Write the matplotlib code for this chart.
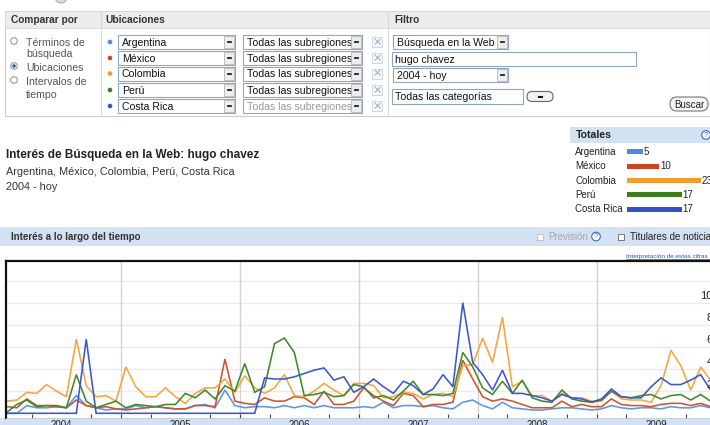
import matplotlib
matplotlib.use("Agg")
import matplotlib.pyplot as plt
import matplotlib.transforms as mtransforms
from matplotlib.patches import Rectangle, Circle, FancyBboxPatch
import numpy as np

plt.rcParams['font.family'] = ['Liberation Sans', 'DejaVu Sans']

# datos (interes mensual, ene 2004 - dic 2009)
paises = ['Argentina', 'México', 'Colombia', 'Perú', 'Costa Rica']
totales = [5, 10, 23, 17, 17]
anios = ['2004', '2005', '2006', '2007', '2008', '2009']
valores_eje = [20, 40, 60, 80, 100]

argentina = [0, 0, 7, 5, 5, 6, 5, 16, 7, 5, 3, 4,
             4, 7, 5, 6, 5, 4, 4, 7, 8, 5, 21, 7,
             5, 6, 6, 5, 7, 5, 7, 5, 7, 5, 5, 5,
             6, 5, 10, 5, 7, 7, 6, 7, 5, 4, 10, 12,
             7, 4, 10, 5, 4, 3, 3, 4, 5, 5, 4, 3,
             4, 7, 5, 4, 5, 5, 4, 6, 5, 5, 7, 5]
mexico = [6, 5, 13, 7, 7, 6, 5, 12, 7, 5, 6, 4,
          3, 4, 5, 6, 5, 4, 4, 7, 7, 6, 49, 11,
          9, 8, 14, 11, 11, 15, 14, 8, 20, 8, 8, 11,
          23, 16, 11, 7, 18, 16, 6, 8, 8, 10, 48, 31,
          15, 11, 13, 11, 8, 5, 5, 5, 11, 6, 8, 6,
          6, 13, 8, 7, 7, 6, 8, 9, 9, 7, 9, 6]
colombia = [11, 12, 19, 18, 26, 20, 15, 67, 25, 15, 16, 11,
            42, 24, 15, 15, 23, 15, 9, 18, 23, 23, 31, 19,
            34, 23, 18, 23, 35, 16, 15, 20, 27, 21, 16, 27,
            27, 25, 14, 15, 19, 18, 13, 17, 18, 15, 43, 44,
            68, 46, 87, 24, 29, 16, 16, 11, 18, 14, 14, 11,
            11, 20, 13, 12, 12, 10, 25, 57, 43, 21, 42, 30]
peru = [1, 8, 12, 6, 7, 7, 5, 35, 11, 5, 8, 11,
        5, 8, 7, 6, 8, 8, 18, 14, 21, 13, 25, 20,
        45, 19, 24, 63, 68, 55, 16, 17, 19, 15, 16, 26,
        24, 14, 16, 12, 20, 29, 17, 17, 16, 18, 55, 42,
        23, 17, 29, 18, 30, 14, 11, 10, 21, 13, 11, 10,
        12, 20, 15, 14, 16, 17, 13, 16, 17, 12, 17, 11]
costa_rica = [0, 0, 0, 0, 0, 0, 0, 0, 67, 0, 0, 0,
              0, 0, 0, 0, 0, 0, 0, 0, 0, 0, 0, 0,
              0, 0, 32, 31, 31, 33, 36, 39, 41, 30, 33, 19,
              24, 31, 24, 18, 29, 25, 17, 22, 35, 24, 100, 46,
              35, 21, 39, 18, 18, 16, 14, 11, 17, 14, 13, 10,
              13, 22, 15, 14, 14, 24, 32, 26, 26, 30, 35, 21]
series = [argentina, mexico, colombia, peru, costa_rica]

colores = ['#5c95ea', '#d0532e', '#f7a53c', '#40892a', '#3d56d0']
colores_barra = ['#4a8be6', '#cc4422', '#f59a2c', '#3b7d1e', '#3352c8']

fig = plt.figure(figsize=(7.1, 4.25), dpi=100)

# capa de interfaz en pixeles
ui = fig.add_axes([0, 0, 1, 1])
ui.set_xlim(0, 710)
ui.set_ylim(425, 0)
ui.axis('off')


def desplegable(x0, x1, yc, texto, gris=False, h=14):
    ui.add_patch(Rectangle((x0, yc - h / 2), x1 - x0, h, fc='white', ec='#8ea6c6', lw=0.8, zorder=2))
    ui.text(x0 + 4, yc + 0.5, texto, fontsize=7.6, va='center', color='#999999' if gris else '#111111', zorder=3)
    ui.add_patch(Rectangle((x1 - 11, yc - h / 2 + 1), 10, h - 2, fc='#ededed', ec='#b5b5b5', lw=0.6, zorder=4))
    ui.plot([x1 - 7.5, x1 - 4.5], [yc, yc], color='#222222', lw=1.3, zorder=5)


def campo(x0, x1, yc, texto, h=14):
    ui.add_patch(Rectangle((x0, yc - h / 2), x1 - x0, h, fc='white', ec='#8ea6c6', lw=0.8, zorder=2))
    ui.text(x0 + 3, yc + 0.5, texto, fontsize=7.6, va='center', color='#111111', zorder=3)


# icono cortado arriba
ui.add_patch(Circle((61, -3), 6, fc='#dddddd', ec='#aaaaaa', lw=0.8))

# panel de consulta
ui.add_patch(Rectangle((5, 11), 705, 105, fc='white', ec='#cccccc', lw=0.8))
ui.add_patch(Rectangle((5, 11), 705, 17, fc='#ececec', ec='#d6d6d6', lw=0.6))
ui.plot([101, 101], [11, 116], color='#d8d8d8', lw=0.8)
ui.plot([388, 388], [11, 116], color='#d8d8d8', lw=0.8)
ui.text(11, 19.5, 'Comparar por', fontsize=7.3, fontweight='bold', va='center', color='#333333')
ui.text(105, 19.5, 'Ubicaciones', fontsize=7.3, fontweight='bold', va='center', color='#333333')
ui.text(394, 19.5, 'Filtro', fontsize=7.3, fontweight='bold', va='center', color='#333333')

# radios
for yr, sel in [(41, False), (66, True), (80, False)]:
    ui.add_patch(Circle((14, yr), 3.3, fc='white', ec='#999999', lw=0.8))
    if sel:
        ui.add_patch(Circle((14, yr), 1.8, fc='#2a5db0', ec='none'))
for t, yt in [('Términos de', 42.5), ('búsqueda', 53.5), ('Ubicaciones', 67.5),
              ('Intervalos de', 81.5), ('tiempo', 95)]:
    ui.text(26, yt, t, fontsize=7.6, va='center', color='#555555')

# filas de ubicaciones
filas_y = [42, 58, 73.5, 90, 106]
for i, p in enumerate(paises):
    yc = filas_y[i]
    ui.add_patch(Circle((110, yc), 2.3, fc=colores_barra[i], ec='none'))
    desplegable(118, 235, yc, p)
    desplegable(243, 362, yc, 'Todas las subregiones', gris=(i == 4))
    ui.add_patch(Rectangle((372, yc - 5), 10, 10, fc='#f4f6fa', ec='#c8d2e0', lw=0.6))
    ui.text(377, yc + 0.3, '×', fontsize=8, ha='center', va='center', color='#8da2c4', family='DejaVu Sans')

# filtro
desplegable(393, 508, 42, 'Búsqueda en la Web')
campo(392, 636, 59, 'hugo chavez')
desplegable(393, 508, 75, '2004 - hoy')
campo(392, 523, 96.5, 'Todas las categorías', h=15)
ui.add_patch(FancyBboxPatch((527, 91.5), 26, 10, boxstyle='round,pad=0,rounding_size=5',
                            fc='#f2f2f2', ec='#666666', lw=0.8))
ui.plot([538.5, 541.5], [96.5, 96.5], color='#111111', lw=1.5)
ui.add_patch(FancyBboxPatch((670, 97), 38, 14, boxstyle='round,pad=0,rounding_size=7',
                            fc='#f4f4f4', ec='#777777', lw=0.8))
ui.text(689, 104.5, 'Buscar', fontsize=7, ha='center', va='center', color='#222222')

# titulo
ui.text(6, 155, 'Interés de Búsqueda en la Web: hugo chavez', fontsize=8.5, fontweight='bold',
        va='center', color='#222222')
ui.text(6, 171.5, ', '.join(paises), fontsize=7.8, va='center', color='#333333')
ui.text(6, 186.5, '2004 - hoy', fontsize=7.8, va='center', color='#333333')

# totales
ui.add_patch(Rectangle((570, 127), 140, 16, fc='#d3e2f3', ec='none'))
ui.text(576, 135.5, 'Totales', fontsize=7.6, fontweight='bold', va='center', color='#222222')
ui.add_patch(Circle((706, 135), 4.3, fc='white', ec='#3b67c8', lw=0.8))
ui.text(706, 135.3, '?', fontsize=5.5, ha='center', va='center', color='#3b67c8')
fila0, paso = 151.7, 14.4
for i, p in enumerate(paises):
    ui.text(575, fila0 + paso * i, p, fontsize=7, va='center', color='#222222')

tx = fig.add_axes([627 / 710, (425 - (fila0 - paso / 2 + 5 * paso)) / 425, 74 / 710, 5 * paso / 425])
tx.barh(range(len(totales)), totales, height=0.36, color=colores_barra)
tx.set_xlim(0, 23)
tx.set_ylim(4.5, -0.5)
tx.axis('off')
for i, v in enumerate(totales):
    tx.text(v + 0.25, i, str(v), fontsize=7, va='center', color='#222222', clip_on=False)

# banda "Interes a lo largo del tiempo"
ui.add_patch(Rectangle((0, 227), 710, 19, fc='#d3e2f3', ec='none'))
ui.text(11, 237, 'Interés a lo largo del tiempo', fontsize=7.0, fontweight='bold', va='center', color='#333333')
ui.add_patch(Rectangle((537, 234), 6, 6, fc='#fafafa', ec='#bbbbbb', lw=0.6))
ui.text(548, 237, 'Previsión', fontsize=7, va='center', color='#a8a8a8')
ui.add_patch(Circle((596, 236.5), 4.3, fc='white', ec='#3b67c8', lw=0.8))
ui.text(596, 236.8, '?', fontsize=5.5, ha='center', va='center', color='#3b67c8')
ui.add_patch(Rectangle((618, 234), 6, 6, fc='white', ec='#666666', lw=0.6))
ui.text(630, 237, 'Titulares de noticias', fontsize=7, va='center', color='#222222')
ui.text(626, 256.5, 'Interpretación de estas cifras', fontsize=4.6, va='center', color='#2255cc')
ui.plot([626, 710], [258.7, 258.7], color='#2255cc', lw=0.5)

# banda inferior del eje
ui.add_patch(Rectangle((0, 418), 710, 7, fc='#d3e2f3', ec='none'))

# grafico
ax = fig.add_axes([6 / 710, 7 / 425, 754 / 710, 157 / 425])
meses = np.arange(len(argentina))
for s, c in zip(series, colores):
    ax.plot(meses, s, color=c, lw=1.15, solid_joinstyle='miter')
ax.set_xlim(-0.096, 75.99)
ax.set_ylim(-4.25, 137.7)
for v in range(20, 121, 20):
    ax.axhline(v, color='#eaeaf0', lw=1, zorder=0)
for k in range(1, len(anios)):
    ax.axvline(12 * k - 0.5, color='#d2d2d2', lw=1, zorder=0)
for v in valores_eje:
    ax.text(71.85, v + 6, str(v), fontsize=8, ha='right', va='center', color='#222222')

ax.set_yticks([])
ax.set_xticks([12 * k - 0.5 for k in range(1, len(anios))])
ax.set_xticks([12 * k + q for k in range(len(anios)) for q in (2.5, 8.5)], minor=True)
ax.tick_params(axis='x', which='both', direction='in', length=3, width=0.8, color='#444444',
               labelbottom=False)
ax.spines['right'].set_visible(False)
ax.spines['bottom'].set_color('#b9cce3')
ax.spines['bottom'].set_linewidth(0.6)
ax.spines['top'].set_linewidth(1.6)
ax.spines['left'].set_linewidth(1.6)
ax.spines['top'].set_color('#111111')
ax.spines['left'].set_color('#111111')

tr = mtransforms.blended_transform_factory(ax.transData, ax.transAxes)
for k, a in enumerate(anios):
    ax.text(12 * k + 5.5, -0.012, a, transform=tr, fontsize=7, ha='center', va='top',
            color='#222222', clip_on=False)

fig.savefig('out.png', dpi=100)
